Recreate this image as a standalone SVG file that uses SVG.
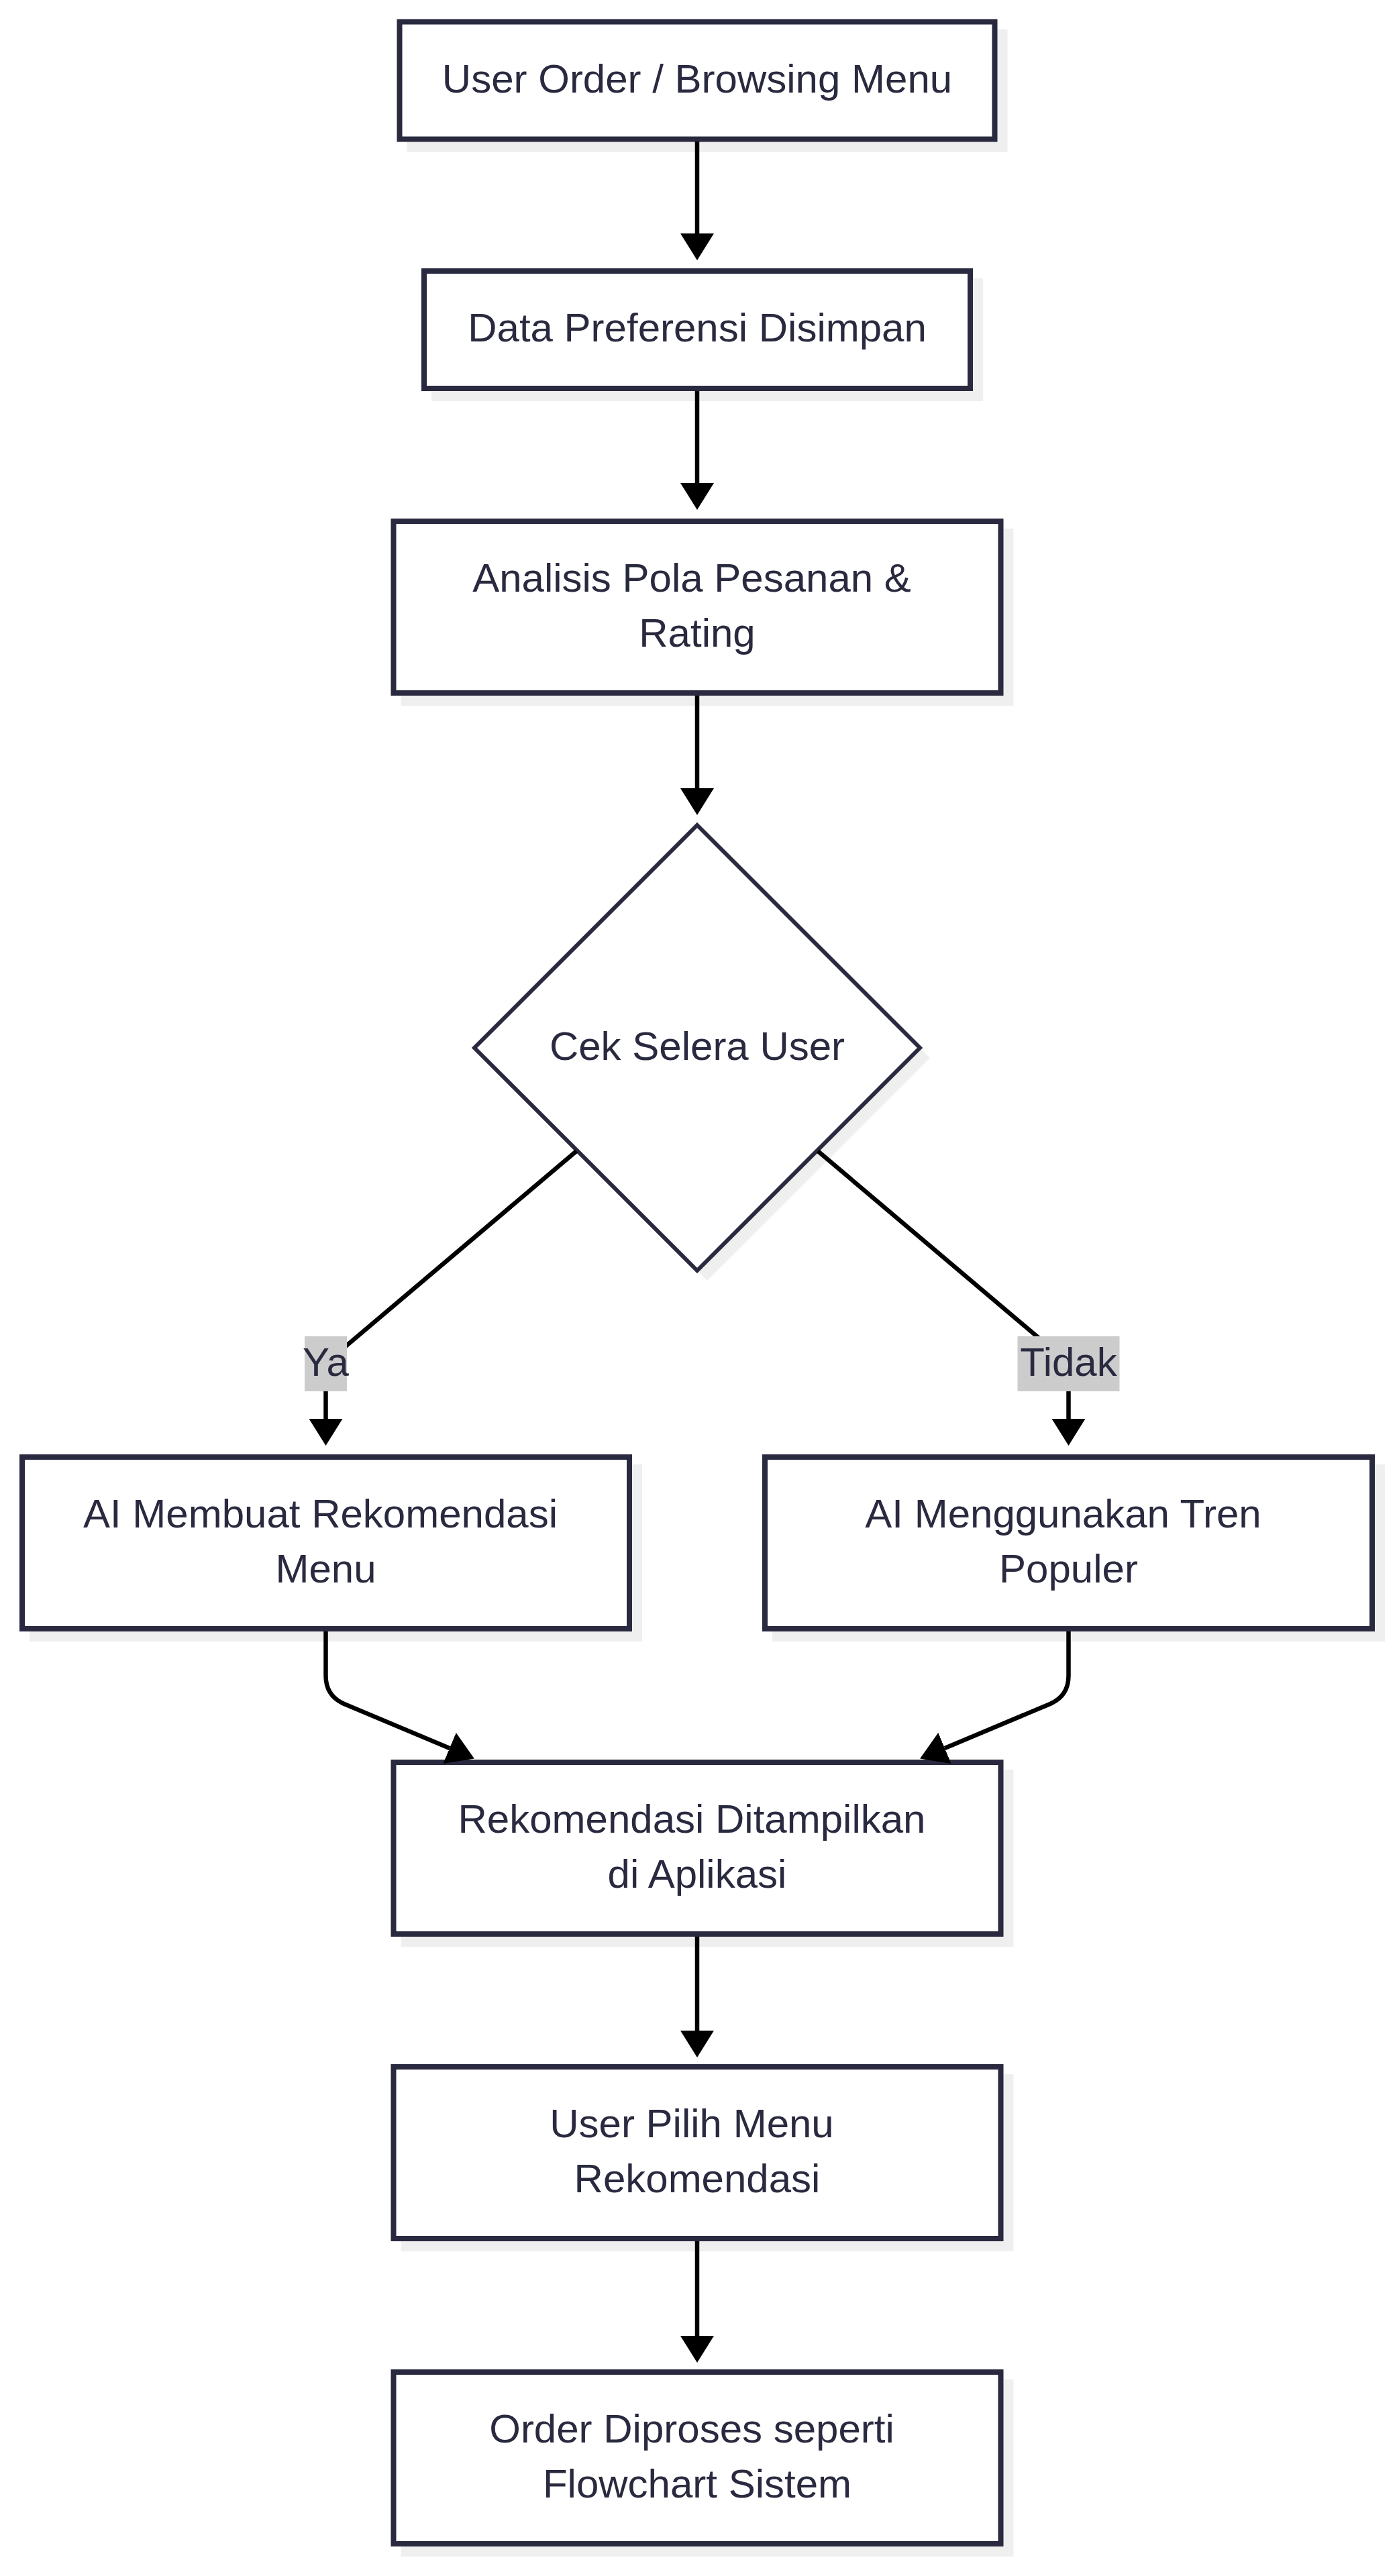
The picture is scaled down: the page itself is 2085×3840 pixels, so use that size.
<svg xmlns="http://www.w3.org/2000/svg" width="2085" height="3840" viewBox="0 0 2085 3840">
  <defs>
    <style>
      .node { fill: #ffffff; stroke: #29293f; stroke-width: 8; }
      .dec { fill: #ffffff; stroke: #29293f; stroke-width: 6; }
      .shadow { fill: #efefef; stroke: none; }
      .label { font-family: "Liberation Sans", Arial, sans-serif; font-size: 60px; fill: #29293f; text-anchor: middle; }
      .edge { fill: none; stroke: #000000; stroke-width: 6.5; }
      .elbg { fill: #cccccc; stroke: none; }
    </style>
    <marker id="arrow" markerUnits="userSpaceOnUse" viewBox="0 0 40 50" refX="0" refY="25" markerWidth="40" markerHeight="50" orient="auto">
      <path d="M0,0 L40,25 L0,50 z" fill="#000000"/>
    </marker>
  </defs>
  <rect width="2085" height="3840" fill="#ffffff"/>

  <g id="node-user-order">
    <rect class="shadow" x="606.5" y="43.5" width="895" height="183"/>
    <rect class="node" x="595.5" y="32.5" width="887" height="175"/>
    <text class="label" x="1039" y="137.5">User Order / Browsing Menu</text>
  </g>

  <g id="node-data-preferensi">
    <rect class="shadow" x="643" y="415" width="822" height="183"/>
    <rect class="node" x="632" y="404" width="814" height="175"/>
    <text class="label" x="1039" y="509">Data Preferensi Disimpan</text>
  </g>

  <g id="node-analisis">
    <rect class="shadow" x="597.5" y="788" width="913" height="264"/>
    <rect class="node" x="586.5" y="777" width="905" height="256"/>
    <text class="label" x="1031" y="881.5">Analisis Pola Pesanan &amp;</text>
    <text class="label" x="1039" y="963.5">Rating</text>
  </g>

  <g id="node-cek-selera">
    <polygon class="shadow" points="1054,1245 1386,1577 1054,1909 722,1577"/>
    <polygon class="dec" points="1039,1230 1371,1562 1039,1894 707,1562"/>
    <text class="label" x="1039" y="1580">Cek Selera User</text>
  </g>

  <g id="node-ai-rekomendasi">
    <rect class="shadow" x="44" y="2183" width="913" height="264"/>
    <rect class="node" x="33" y="2172" width="905" height="256"/>
    <text class="label" x="477.5" y="2276.5">AI Membuat Rekomendasi</text>
    <text class="label" x="485.5" y="2358.5">Menu</text>
  </g>

  <g id="node-ai-tren">
    <rect class="shadow" x="1151" y="2183" width="913" height="264"/>
    <rect class="node" x="1140" y="2172" width="905" height="256"/>
    <text class="label" x="1584.5" y="2276.5">AI Menggunakan Tren</text>
    <text class="label" x="1592.5" y="2358.5">Populer</text>
  </g>

  <g id="node-rekomendasi-ditampilkan">
    <rect class="shadow" x="597.5" y="2638" width="913" height="264"/>
    <rect class="node" x="586.5" y="2627" width="905" height="256"/>
    <text class="label" x="1031" y="2731.5">Rekomendasi Ditampilkan</text>
    <text class="label" x="1039" y="2813.5">di Aplikasi</text>
  </g>

  <g id="node-user-pilih">
    <rect class="shadow" x="597.5" y="3092" width="913" height="264"/>
    <rect class="node" x="586.5" y="3081" width="905" height="256"/>
    <text class="label" x="1031" y="3185.5">User Pilih Menu</text>
    <text class="label" x="1039" y="3267.5">Rekomendasi</text>
  </g>

  <g id="node-order-diproses">
    <rect class="shadow" x="597.5" y="3547" width="913" height="264"/>
    <rect class="node" x="586.5" y="3536" width="905" height="256"/>
    <text class="label" x="1031" y="3640.5">Order Diproses seperti</text>
    <text class="label" x="1039" y="3722.5">Flowchart Sistem</text>
  </g>

  <g id="connectors">
    <path class="edge" d="M1039,211 L1039,348" marker-end="url(#arrow)"/>
    <path class="edge" d="M1039,583 L1039,720" marker-end="url(#arrow)"/>
    <path class="edge" d="M1039,1037 L1039,1175" marker-end="url(#arrow)"/>
    <path class="edge" d="M859,1716 L485.5,2032 L485.5,2115" marker-end="url(#arrow)"/>
    <path class="edge" d="M1219,1716 L1592.5,2032 L1592.5,2115" marker-end="url(#arrow)"/>
    <path class="edge" d="M485.5,2432 L485.5,2498 Q485.5,2528 513,2540 L670,2606" marker-end="url(#arrow)"/>
    <path class="edge" d="M1592.5,2432 L1592.5,2498 Q1592.5,2528 1565,2540 L1408,2606" marker-end="url(#arrow)"/>
    <path class="edge" d="M1039,2887 L1039,3027" marker-end="url(#arrow)"/>
    <path class="edge" d="M1039,3341 L1039,3482" marker-end="url(#arrow)"/>
    <g id="label-ya">
      <rect class="elbg" x="454" y="1992" width="63" height="82"/>
      <text class="label" x="485.5" y="2051">Ya</text>
    </g>
    <g id="label-tidak">
      <rect class="elbg" x="1516.5" y="1992" width="152" height="82"/>
      <text class="label" x="1592.5" y="2051">Tidak</text>
    </g>
  </g>
</svg>
